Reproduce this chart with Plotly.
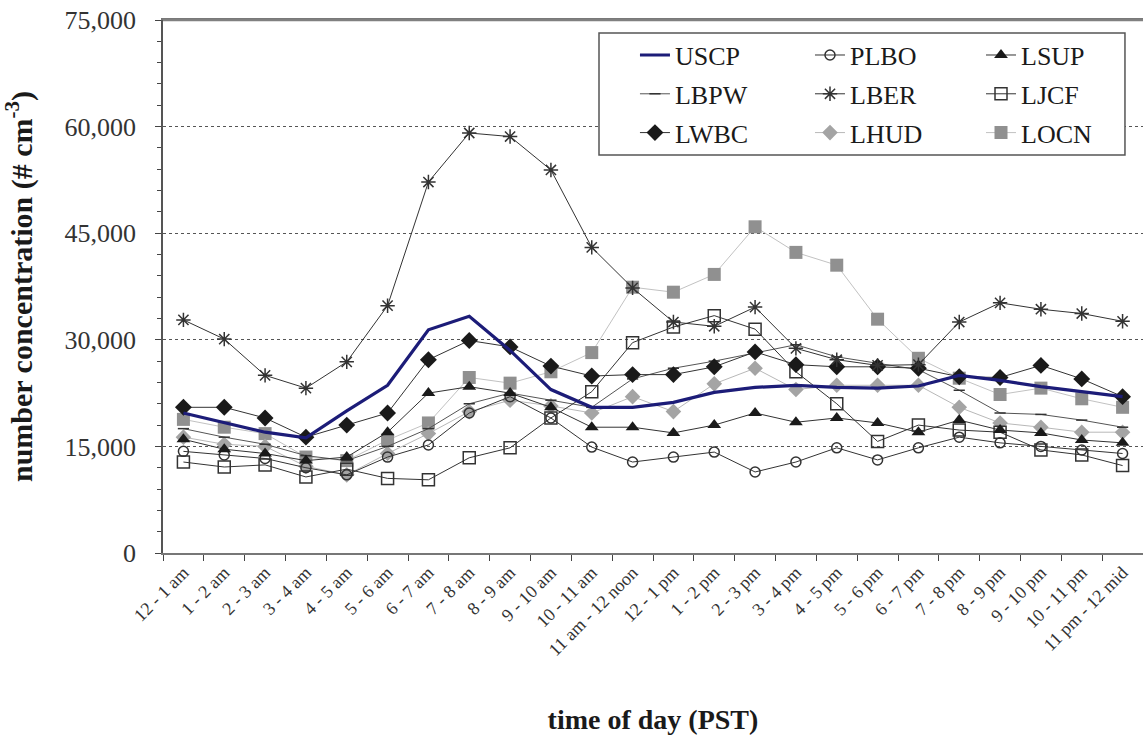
import plotly.graph_objects as go

hours = ["12 - 1 am", "1 - 2 am", "2 - 3 am", "3 - 4 am", "4 - 5 am", "5 - 6 am",
         "6 - 7 am", "7 - 8 am", "8 - 9 am", "9 - 10 am", "10 - 11 am", "11 am - 12 noon",
         "12 - 1 pm", "1 - 2 pm", "2 - 3 pm", "3 - 4 pm", "4 - 5 pm", "5 - 6 pm",
         "6 - 7 pm", "7 - 8 pm", "8 - 9 pm", "9 - 10 pm", "10 - 11 pm", "11 pm - 12 mid"]

USCP = [19700, 18300, 17000, 16200, 20000, 23600, 31400, 33300, 28500, 23000, 20500, 20500,
        21200, 22600, 23300, 23600, 23300, 23200, 23500, 25000, 24300, 23400, 22700, 22000]
PLBO = [14300, 13800, 13300, 12000, 11000, 13500, 15200, 19700, 22000, 19000, 14900, 12800,
        13500, 14200, 11400, 12800, 14800, 13100, 14800, 16300, 15500, 15000, 14500, 14000]
LSUP = [16000, 14600, 14000, 13000, 13500, 17000, 22500, 23400, 22500, 20500, 17700, 17700,
        16900, 18000, 19700, 18400, 19000, 18300, 17000, 18700, 17300, 16900, 15900, 15500]
LBPW = [17500, 16300, 15300, 13700, 13000, 15000, 17500, 21000, 22500, 21500, 20500, 24500,
        26000, 27000, 28200, 29300, 27600, 26700, 25800, 22900, 19700, 19500, 18700, 17700]
LBER = [32800, 30100, 25000, 23200, 26900, 34800, 52200, 59100, 58600, 53900, 43000, 37300,
        32500, 31900, 34600, 28800, 27200, 26400, 26500, 32500, 35200, 34300, 33700, 32600]
LJCF = [12800, 12100, 12400, 10700, 11800, 10500, 10300, 13400, 14800, 19000, 22700, 29600,
        31800, 33400, 31500, 25500, 21000, 15700, 18000, 17300, 17000, 14500, 13800, 12300]
LWBC = [20500, 20500, 19000, 16300, 18000, 19700, 27200, 29900, 29000, 26300, 24900, 25100,
        25100, 26200, 28300, 26500, 26200, 26200, 26000, 24800, 24700, 26400, 24500, 22000]
LHUD = [16300, 15300, 15000, 12200, 11000, 14000, 16800, 19900, 21500, 20700, 19700, 22000,
        19900, 23800, 26000, 23000, 23600, 23600, 23600, 20500, 18300, 17700, 17000, 17000]
LOCN = [18800, 17700, 16800, 13500, 13000, 15900, 18300, 24700, 23900, 25500, 28200, 37400,
        36700, 39200, 45900, 42300, 40500, 32900, 27400, 24600, 22300, 23200, 21700, 20500]

SERIF = "Liberation Serif"
DARK = "#333333"

# name, values, marker symbol, marker size, marker colour, line colour, line width, legend
series = [
    ("LOCN", LOCN, "square", 13, "#909090", "#c2c2c2", 1, "legend3"),
    ("LHUD", LHUD, "diamond", 12, "#a4a4a4", "#b8b8b8", 1, "legend2"),
    ("LBPW", LBPW, "line-ew-open", 8, DARK, "#555555", 1, "legend"),
    ("PLBO", PLBO, "circle-open", 10, DARK, DARK, 1, "legend2"),
    ("LJCF", LJCF, "square-open", 12, DARK, DARK, 1, "legend3"),
    ("LSUP", LSUP, "triangle-up", 12, "#1a1a1a", DARK, 1, "legend3"),
    ("LWBC", LWBC, "diamond", 13, "#1a1a1a", DARK, 1, "legend"),
    ("LBER", LBER, "asterisk-open", 12, DARK, DARK, 1, "legend2"),
]

legend_rank = {"USCP": 1, "LBPW": 2, "LWBC": 3,
               "PLBO": 1, "LBER": 2, "LHUD": 3,
               "LSUP": 1, "LJCF": 2, "LOCN": 3}

fig = go.Figure()
for name, vals, sym, size, mcol, lcol, lw, leg in series:
    fig.add_trace(go.Scatter(
        x=hours, y=vals, name=name, mode="lines+markers",
        line=dict(color=lcol, width=lw),
        marker=dict(symbol=sym, size=size, color=mcol,
                    line=dict(color=mcol, width=1.5 if "open" in sym else 0)),
        legend=leg, legendgroup=name, legendrank=legend_rank[name],
    ))

fig.add_trace(go.Scatter(
    x=hours, y=USCP, name="USCP", mode="lines",
    line=dict(color="#1c1c78", width=3.2),
    legend="legend", legendgroup="USCP", legendrank=legend_rank["USCP"],
))

leg_common = dict(
    font=dict(family=SERIF, size=26, color="#1a1a1a"),
    bgcolor="rgba(0,0,0,0)", borderwidth=0,
    y=0.861, yanchor="middle", xanchor="left",
    traceorder="grouped", tracegroupgap=2,
)

fig.update_layout(
    width=1143, height=736,
    margin=dict(l=163, r=0, t=20, b=183, autoexpand=False),
    paper_bgcolor="white", plot_bgcolor="white",
    font=dict(family=SERIF, color="#1a1a1a"),
    showlegend=True,
    legend=dict(x=0.4816, **leg_common),
    legend2=dict(x=0.6602, **leg_common),
    legend3=dict(x=0.8347, **leg_common),
    shapes=[
        dict(type="line", xref="paper", yref="paper", x0=0, x1=1, y0=1, y1=1,
             line=dict(color="#808080", width=2.5), layer="above"),
        dict(type="rect", xref="paper", yref="paper",
             x0=0.4449, x1=0.9816, y0=0.7467, y1=0.9756,
             line=dict(color="#555555", width=1.5),
             fillcolor="white", layer="above"),
    ],
)

fig.update_xaxes(
    type="category", range=[-0.5, len(hours) - 0.5], tickson="boundaries",
    ticks="outside", ticklen=6, tickcolor="#444444",
    showline=True, linecolor="#777777", linewidth=2, mirror=True,
    showgrid=False, tickangle=-45,
    tickfont=dict(family=SERIF, size=18, color="#333333"),
    title=dict(text="<b>time of day (PST)</b>", standoff=51,
               font=dict(family=SERIF, size=28, color="#1a1a1a")),
    automargin=False,
)

fig.update_yaxes(
    range=[0, 75000], dtick=15000, tickformat=",",
    ticks="outside", ticklen=6, tickcolor="#444444",
    minor=dict(dtick=3000, ticks="outside", ticklen=4, tickcolor="#444444", showgrid=False),
    showline=True, linecolor="#555555", linewidth=1.5,
    showgrid=True, gridcolor="#555555", griddash="dot", gridwidth=1.2,
    zeroline=False, ticklabelstandoff=14,
    tickfont=dict(family=SERIF, size=26, color="#333333"),
    title=dict(text="<b>number concentration (# cm<sup>-3</sup>)</b>", standoff=27,
               font=dict(family=SERIF, size=30, color="#1a1a1a")),
    automargin=False,
)

fig.write_html(
    "out.html",
    config={"displayModeBar": False},
    post_script="document.body.style.margin='0';document.body.style.padding='0';"
                "document.documentElement.style.overflow='hidden';",
)
